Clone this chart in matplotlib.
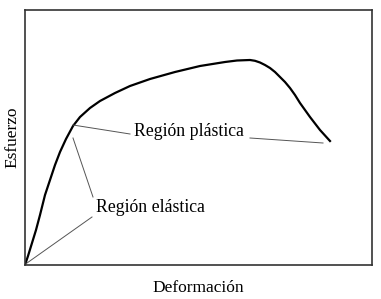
import matplotlib
matplotlib.use("Agg")
import matplotlib.pyplot as plt

plt.rcParams["font.family"] = ["Liberation Serif", "DejaVu Serif"]

# curve (deformation, stress) in arbitrary units
deformacion = [0, 3, 7, 11, 15, 20, 25, 30, 35, 41, 48, 55, 65, 75, 90, 105,
               125, 150, 175, 200, 212, 225, 230, 235, 240, 245, 250, 255,
               260, 265, 270, 275, 280, 285, 290, 295, 300, 305]
esfuerzo = [0, 9, 22, 35, 50, 70, 85, 100, 113, 126, 139, 148, 157, 164, 172,
            179, 186, 193, 199, 203, 204.5, 205, 204.2, 202.5, 200, 197, 193,
            188, 183, 177, 170, 162, 155, 148, 141.5, 135, 129.5, 124]

fig = plt.figure(figsize=(3.81, 2.99), dpi=100)
ax = fig.add_axes([25 / 381, 34 / 299, 347 / 381, 255 / 299])

ax.plot(deformacion, esfuerzo, color="black", linewidth=1.6,
        solid_joinstyle="round")

# leader lines
gris = "#555555"
ax.plot([48, 105], [140, 131], color=gris, linewidth=0.7)
ax.plot([225, 298], [127, 122], color=gris, linewidth=0.7)
ax.plot([48, 68], [127, 68], color=gris, linewidth=0.7)
ax.plot([67, 2], [48, 2], color=gris, linewidth=0.7)

ax.text(109, 133, "Región plástica", fontsize=12.8, va="center", ha="left")
ax.text(71, 58, "Región elástica", fontsize=12.8, va="center", ha="left")

ax.set_xlim(0, 347)
ax.set_ylim(0, 255)
ax.set_xticks([])
ax.set_yticks([])
for s in ax.spines.values():
    s.set_color("#333333")
    s.set_linewidth(1.2)

ax.set_xlabel("Deformación", fontsize=12.5, labelpad=11)
ax.set_ylabel("Esfuerzo", fontsize=12.5, labelpad=3)

fig.savefig("out.png", dpi=100)
